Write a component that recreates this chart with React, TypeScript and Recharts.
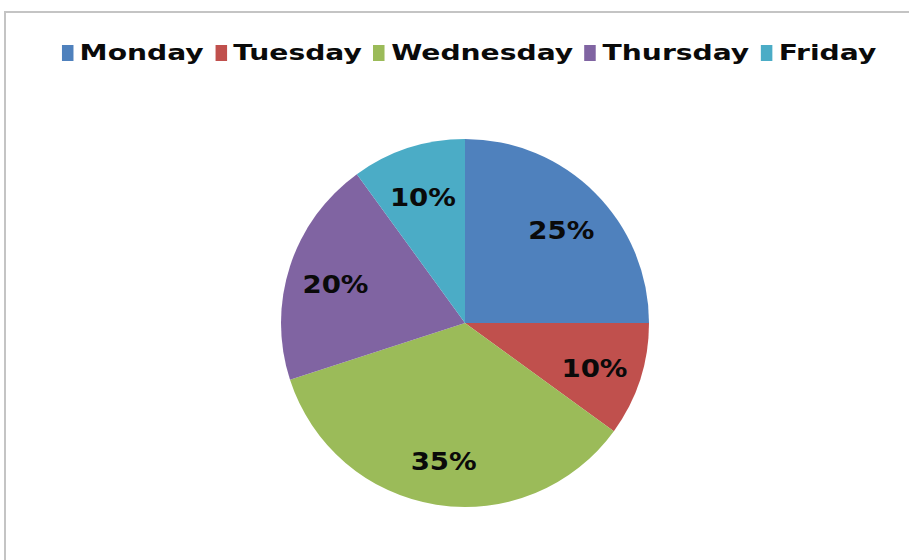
import { PieChart, Pie, Cell } from "recharts";

const days = ["Monday", "Tuesday", "Wednesday", "Thursday", "Friday"];
const shares = [25, 10, 35, 20, 10];
const colors = ["#4f81bd", "#c0504d", "#9bbb59", "#8064a2", "#4bacc6"];

const data = days.map((name, i) => ({ name, value: shares[i] }));

const RADIAN = Math.PI / 180;
const FONT = "'DejaVu Sans', Verdana, sans-serif";

function renderLabel(props: any) {
  const { cx, cy, midAngle, outerRadius, value } = props;
  const r = outerRadius * 0.74;
  const x = cx + r * Math.cos(-midAngle * RADIAN);
  const y = cy + r * Math.sin(-midAngle * RADIAN) + 4;
  return (
    <text
      transform={`translate(${x},${y}) scale(1.15,1)`}
      textAnchor="middle"
      dominantBaseline="central"
      fill="#0a0a0a"
      fontFamily={FONT}
      fontWeight="bold"
      fontSize={24}
    >
      {value}%
    </text>
  );
}

function LegendRow() {
  return (
    <div
      style={{
        position: "absolute",
        left: 0,
        top: 39,
        width: 938,
        display: "flex",
        justifyContent: "center",
        alignItems: "center",
        transform: "scaleX(1.28)",
        transformOrigin: "469px 0",
        fontFamily: FONT,
        fontWeight: "bold",
        fontSize: 22,
        lineHeight: "28px",
        color: "#0a0a0a",
        whiteSpace: "nowrap",
      }}
    >
      {days.map((d, i) => (
        <span key={d} style={{ display: "inline-flex", alignItems: "center", marginRight: i < days.length - 1 ? 9 : 0 }}>
          <span style={{ display: "inline-block", width: 9, height: 16, background: colors[i], marginRight: 5 }} />
          {d}
        </span>
      ))}
    </div>
  );
}

export default function App() {
  return (
    <div style={{ position: "absolute", left: 0, top: 0, width: 909, height: 560, overflow: "hidden", background: "#fff" }}>
      <div
        style={{
          position: "absolute",
          left: 4,
          top: 11,
          width: 930,
          height: 580,
          border: "2px solid #c4c4c4",
        }}
      />
      <div style={{ position: "absolute", left: 0, top: 0 }}>
        <PieChart width={909} height={560} margin={{ top: 0, right: 0, bottom: 0, left: 0 }}>
          <Pie
            data={data}
            dataKey="value"
            nameKey="name"
            cx={465}
            cy={323}
            outerRadius={184}
            startAngle={90}
            endAngle={-270}
            stroke="none"
            label={renderLabel}
            labelLine={false}
            isAnimationActive={false}
          >
            {data.map((d, i) => (
              <Cell key={d.name} fill={colors[i]} />
            ))}
          </Pie>
        </PieChart>
      </div>
      <LegendRow />
    </div>
  );
}
